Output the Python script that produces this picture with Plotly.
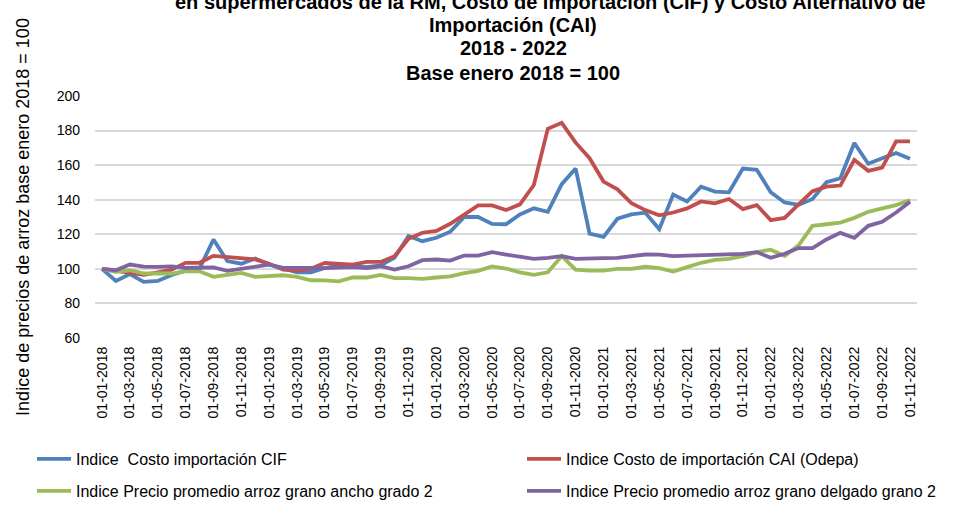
import plotly.graph_objects as go

# Monthly dates, January 2018 to November 2022
fechas = [f"01-{m:02d}-{y}" for y in range(2018, 2023) for m in range(1, 13)][:59]

indice_cif = [100, 93, 97, 92.5, 93, 96.5, 99, 100, 117, 104.5,
              103, 106, 102.5, 100, 98, 98, 100.5, 102, 101.5, 101,
              102, 106.5, 119, 116, 118, 121.5, 130, 130, 126, 125.8,
              131.5, 135, 133, 149, 158, 120.4, 118.5, 129, 131.5, 132.5,
              123, 143, 139, 147.5, 144.7, 144.3, 158, 157.3, 144.3, 138.4,
              137, 140.4, 150.1, 152.4, 172.8, 160.8, 164, 167, 163.7]

indice_cai = [100, 99, 98, 96.5, 98, 99.5, 103.5, 103.5, 107.5, 107,
              106.5, 105.5, 103, 99.5, 99, 100, 103.5, 103, 102.5, 104,
              104, 107.3, 117.4, 120.9, 121.9, 126.1, 131.3, 136.7, 136.7, 134,
              137.3, 148.5, 181, 184.5, 173, 164, 150.5, 146, 138, 134,
              131, 132.6, 135, 139, 137.9, 140.4, 134.6, 136.9, 128.2, 129.5,
              137.3, 145, 147.6, 148.2, 163.1, 156.7, 158.6, 173.8, 173.8]

indice_ancho = [100, 98.3, 99.2, 97.3, 97.3, 97.3, 98.6, 98.6, 95.4, 96.3,
                97.7, 95.4, 95.8, 96.3, 95.4, 93.4, 93.3, 92.8, 95, 95,
                96.5, 94.6, 94.6, 94.2, 95, 95.7, 97.5, 98.8, 101.4, 100.2,
                98, 96.5, 98, 107.4, 99.6, 99, 99, 100, 100, 101.2,
                100.4, 98.4, 101, 103.5, 105.2, 105.8, 107.4, 109.7, 111.1, 107.4,
                113.6, 124.9, 125.8, 126.8, 129.5, 133, 135, 136.9, 139.8]

indice_delgado = [100, 99.2, 102.5, 101.3, 101.1, 101.4, 100.6, 100.6, 100.9, 98.9,
                  100, 101.3, 102.4, 100.6, 100.8, 100.6, 100.4, 100.6, 101, 100.4,
                  101.5, 99.6, 101.5, 105, 105.4, 104.8, 107.7, 107.7, 109.7, 108.3,
                  106.8, 105.8, 106.4, 107.4, 105.8, 105.8, 106.2, 106.4, 107.4, 108.3,
                  108.2, 107.4, 107.6, 107.8, 108, 108.2, 108.7, 109.7, 106.4, 108.7,
                  112, 112, 117, 120.8, 117.9, 124.9, 127.2, 132.6, 138.8]

nombres = ["Indice\u00a0 Costo importación CIF",
           "Indice Costo de importación CAI (Odepa)",
           "Indice Precio promedio arroz grano ancho grado 2",
           "Indice Precio promedio arroz grano delgado grano 2"]

series = [indice_cif, indice_cai, indice_ancho, indice_delgado]
colores = ["#4F81BD", "#C0504D", "#9BBB59", "#8064A2"]

# one single-entry legend per series so each entry can be placed freely
legend_ids = ["legend", "legend2", "legend3", "legend4"]
legend_pos = [(32, 459), (522, 459), (32, 491), (522, 491)]

SANS = "Liberation Sans, Arial, sans-serif"

fig = go.Figure()
for nombre, vals, color, lid in zip(nombres, series, colores, legend_ids):
    fig.add_trace(go.Scatter(
        x=fechas, y=vals, mode="lines", name=nombre,
        line=dict(color=color, width=3.8),
        legend=lid,
    ))

W, H = 956, 509
legend_layout = {}
for lid, (lx, ly) in zip(legend_ids, legend_pos):
    legend_layout[lid] = dict(
        x=lx / W, y=1 - ly / H, xref="container", yref="container",
        xanchor="left", yanchor="middle",
        orientation="h", bgcolor="rgba(0,0,0,0)", borderwidth=0,
        font=dict(family=SANS, size=16, color="#000000"),
        itemwidth=34,
    )

PLOT_TOP, PLOT_BOTTOM = 96, 338

fig.update_layout(
    width=W, height=H,
    margin=dict(l=95, r=39, t=PLOT_TOP, b=H - PLOT_BOTTOM),
    paper_bgcolor="white", plot_bgcolor="white",
    showlegend=True,
    **legend_layout,
)

fig.update_xaxes(
    type="category",
    range=[-0.5, len(fechas) - 0.5],
    tickmode="array",
    tickvals=fechas[::2],
    ticktext=fechas[::2],
    tickangle=-90,
    tickfont=dict(family=SANS, size=14, color="#000000"),
    showgrid=False, showline=False, zeroline=False,
    ticks="", ticklabelstandoff=5,
)

fig.update_yaxes(
    range=[60, 200],
    tickmode="array",
    tickvals=[60, 80, 100, 120, 140, 160, 180, 200],
    tickfont=dict(family=SANS, size=14, color="#000000"),
    showgrid=True, gridcolor="#D9D9D9", gridwidth=1.5,
    zeroline=False, showline=False, ticks="",
    ticklabelstandoff=14,
    title=dict(text="Indice de precios de arroz base enero 2018 = 100",
               font=dict(family=SANS, size=18, color="#000000"),
               standoff=22),
)

# chart title, one annotation per line (the first line runs off the top edge)
titulo = ["en supermercados de la RM, Costo de importación (CIF) y Costo Alternativo de",
          "Importación (CAI)", "2018 - 2022", "Base enero 2018 = 100"]
titulo_x = [550, 513, 513, 513]
titulo_y = [2, 25, 48, 73]
for linea, xpx, ypx in zip(titulo, titulo_x, titulo_y):
    fig.add_annotation(
        text=linea, xref="paper", yref="paper",
        x=(xpx - 95) / (W - 95 - 39),
        y=(PLOT_BOTTOM - ypx) / (PLOT_BOTTOM - PLOT_TOP),
        xanchor="center", yanchor="middle", showarrow=False,
        font=dict(family=SANS, size=20, color="#000000", weight="bold"),
    )

fig.write_html("out.html")
